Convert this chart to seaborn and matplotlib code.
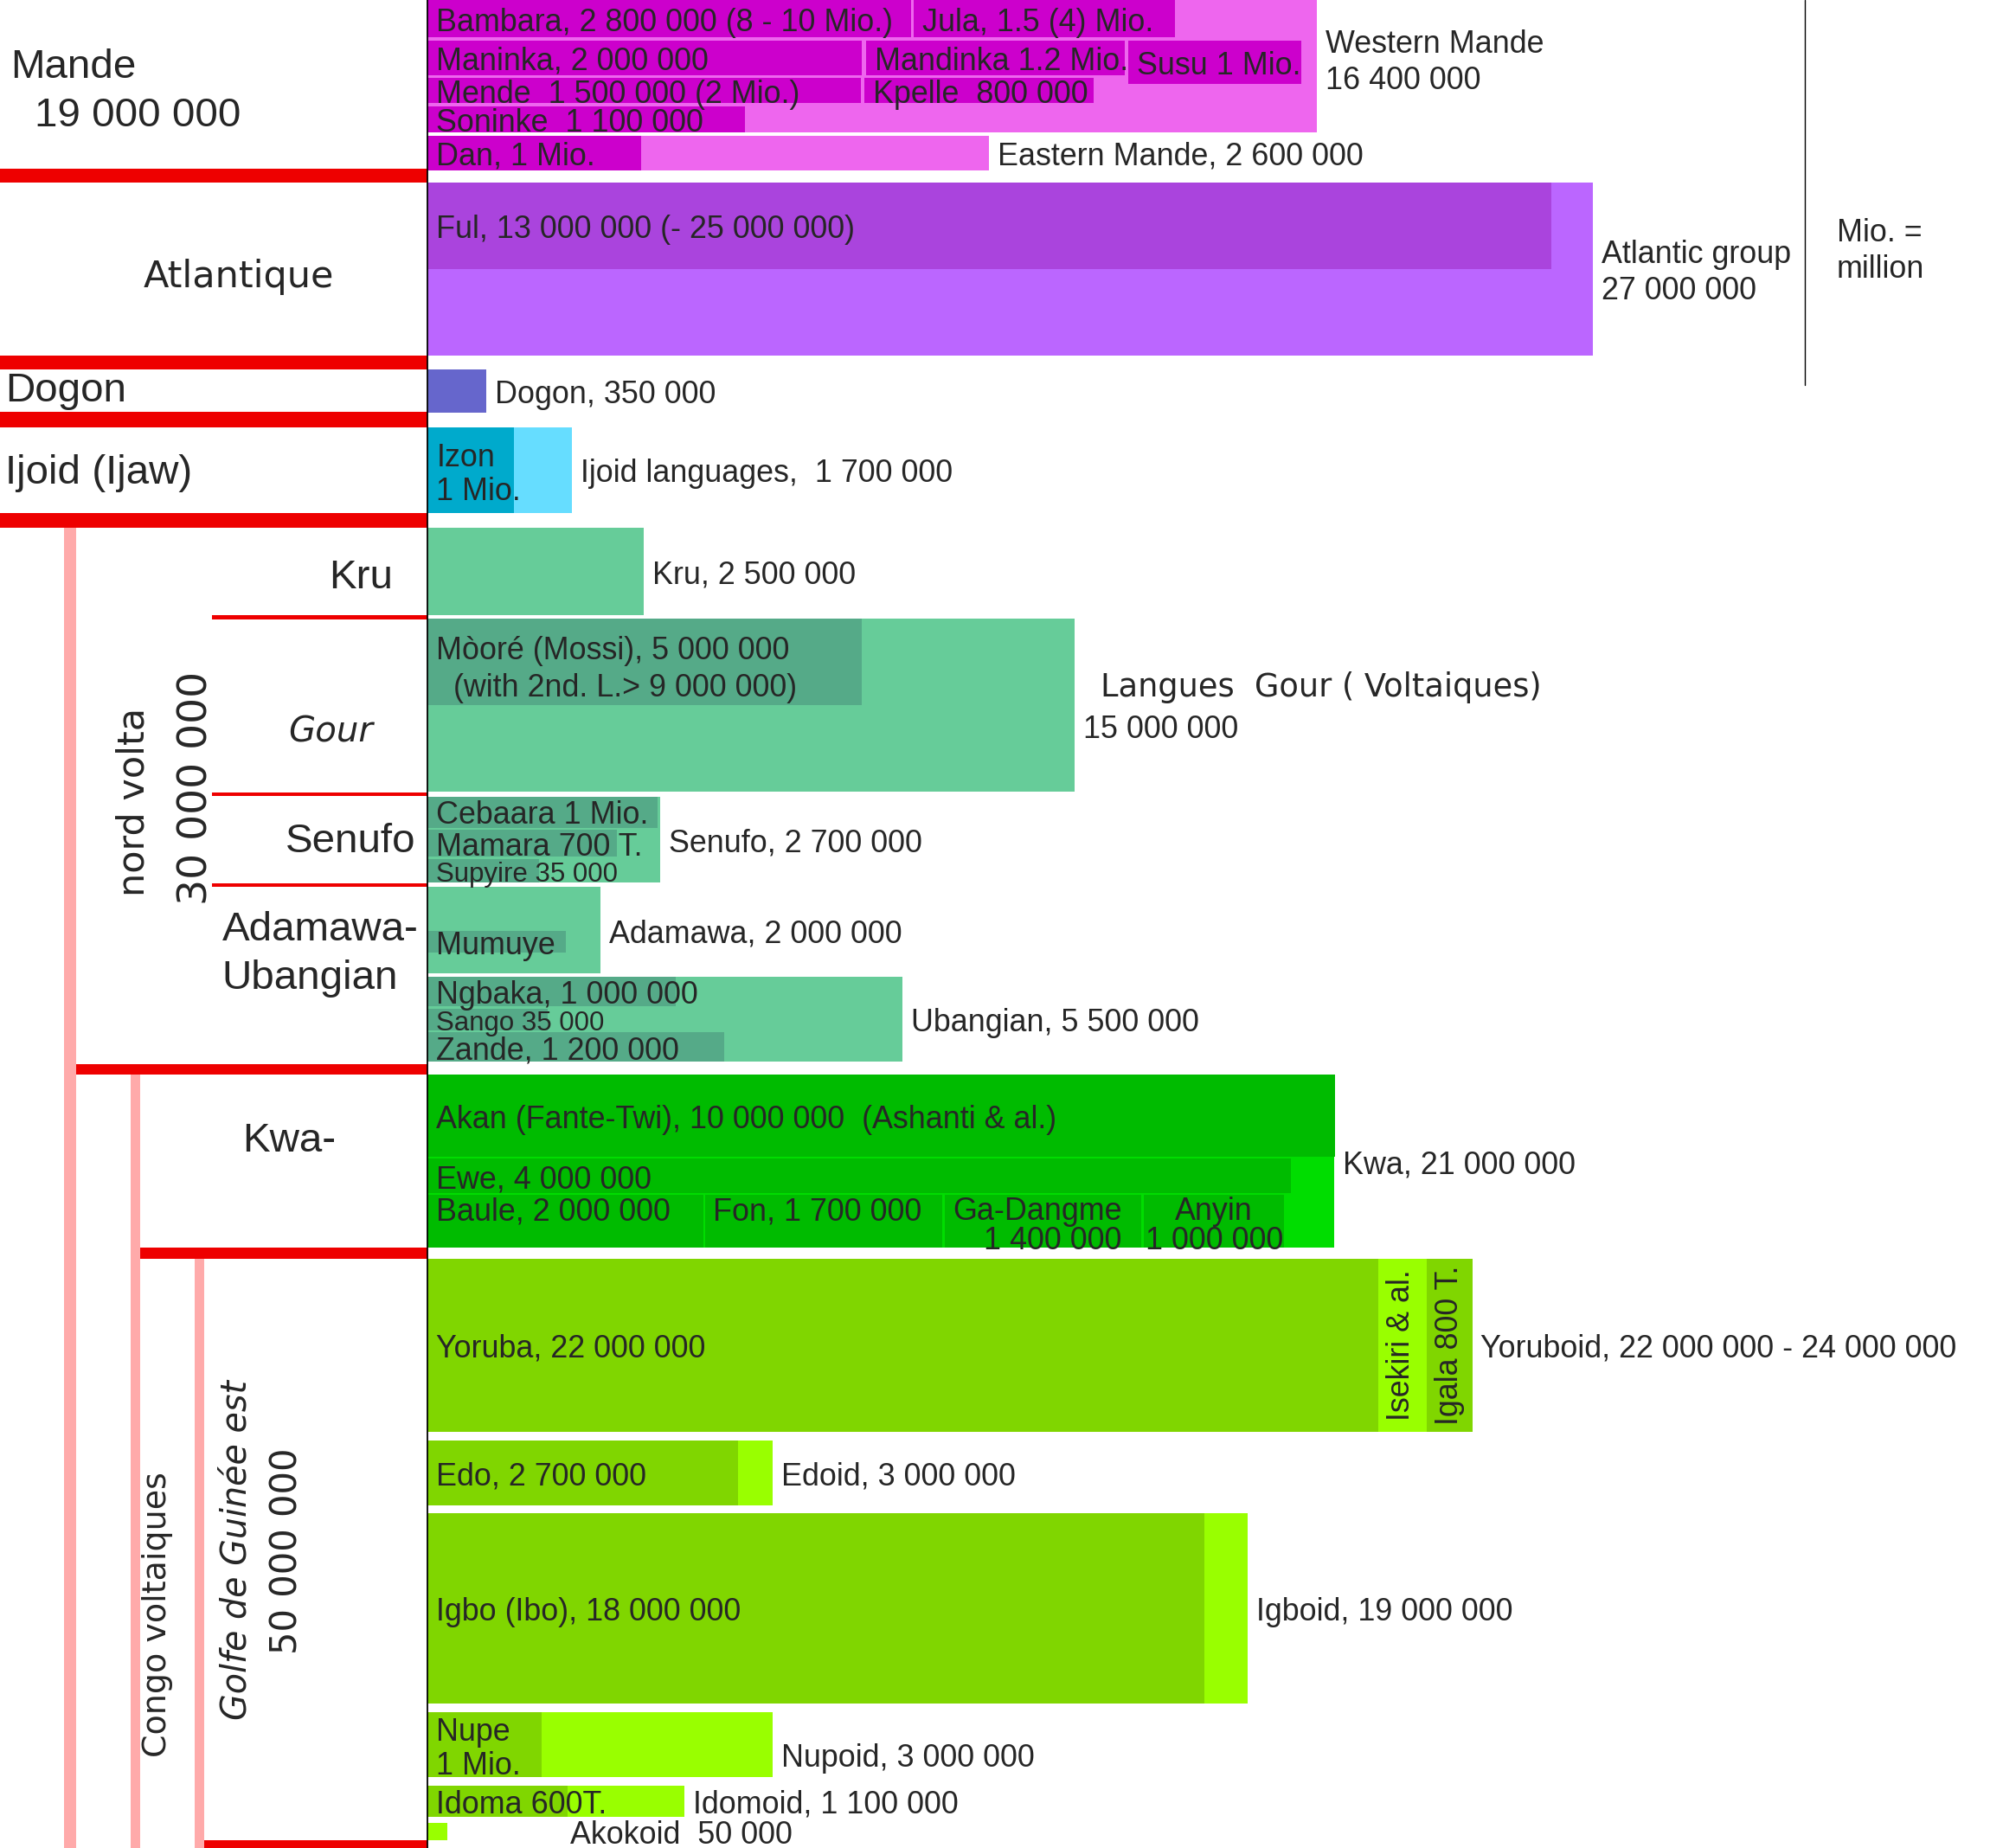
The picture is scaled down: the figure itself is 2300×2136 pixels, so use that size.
import matplotlib
matplotlib.use("Agg")
import matplotlib.pyplot as plt
import seaborn as sns

# ---------------------------------------------------------------
# Group totals. Bar length = millions of speakers on the drawing's
# own scale (the small groups are drawn longer than their count).
# ---------------------------------------------------------------
group_names = ["Western Mande", "Eastern Mande", "Atlantic", "Dogon", "Ijoid",
               "Kru", "Gour", "Senufo", "Adamawa", "Ubangian",
               "Kwa", "Yoruboid", "Edoid", "Igboid", "Nupoid", "Idomoid", "Akokoid"]
group_len = [20.6, 13.0, 27.0, 1.35, 3.35,
             5.0, 15.0, 5.38, 4.0, 11.0,
             21.0, 24.2, 8.0, 19.0, 8.0, 5.95, 0.45]
group_text = ["Western Mande\n16 400 000", "Eastern Mande, 2 600 000",
              "Atlantic group\n27 000 000", "Dogon, 350 000", "Ijoid languages,  1 700 000",
              "Kru, 2 500 000", "15 000 000", "Senufo, 2 700 000", "Adamawa, 2 000 000",
              "Ubangian, 5 500 000", "Kwa, 21 000 000", "Yoruboid, 22 000 000 - 24 000 000",
              "Edoid, 3 000 000", "Igboid, 19 000 000", "Nupoid, 3 000 000",
              "Idomoid, 1 100 000", "Akokoid  50 000"]
group_family = ["mande", "mande", "atlantic", "dogon", "ijoid",
                "volta", "volta", "volta", "volta", "volta",
                "kwa", "golfe", "golfe", "golfe", "golfe", "golfe", "golfe"]
# row extent of each group (rows of the drawing, top to bottom)
group_top = [0, 106.8, 143.8, 291.4, 336.4, 415.5, 487.7, 627.5, 699, 769.8,
             846.8, 992, 1135, 1192, 1349, 1406.7, 1436]
group_bottom = [104.5, 134, 280, 325, 404.5, 484.8, 624, 695.6, 767, 836.7,
                982.9, 1128, 1186, 1342, 1400, 1431.7, 1450]

# ---------------------------------------------------------------
# Single languages drawn inside the group bars
# ---------------------------------------------------------------
sub_text = ["Bambara, 2 800 000 (8 - 10 Mio.)", "Jula, 1.5 (4) Mio.",
            "Maninka, 2 000 000", "Mandinka 1.2 Mio.", "Susu 1 Mio.",
            "Mende  1 500 000 (2 Mio.)", "Kpelle  800 000", "Soninke  1 100 000",
            "Dan, 1 Mio.", "Ful, 13 000 000 (- 25 000 000)", "Izon\n1 Mio.",
            "Mòoré (Mossi), 5 000 000\n  (with 2nd. L.> 9 000 000)",
            "Cebaara 1 Mio.", "Mamara 700 T.", "Supyire 35 000", "Mumuye",
            "Ngbaka, 1 000 000", "Sango 35 000", "Zande, 1 200 000",
            "Akan (Fante-Twi), 10 000 000  (Ashanti & al.)", "Ewe, 4 000 000",
            "Baule, 2 000 000", "Fon, 1 700 000", "Ga-Dangme\n1 400 000", "Anyin\n1 000 000",
            "Yoruba, 22 000 000", "Isekiri & al.", "Igala 800 T.",
            "Edo, 2 700 000", "Igbo (Ibo), 18 000 000", "Nupe\n1 Mio.", "Idoma 600T."]
sub_group = [0, 0, 0, 0, 0, 0, 0, 0, 1, 2, 4, 6, 7, 7, 7, 8, 9, 9, 9,
             10, 10, 10, 10, 10, 10, 11, 11, 11, 12, 13, 14, 15]
sub_start = [0, 11.26, 0, 10.15, 16.24, 0, 10.12, 0, 0, 0, 0, 0, 0, 0, 0, 0, 0, 0, 0,
             0, 0, 0, 6.42, 11.98, 16.6, 0, 22.02, 23.15, 0, 0, 0, 0]
sub_len = [11.2, 6.06, 10.06, 6.0, 4.0, 10.03, 5.32, 7.35, 4.94, 26.03, 2.0,
           10.06, 5.32, 4.38, 2.59, 3.2, 5.74, 2.79, 6.88,
           21.03, 20.0, 6.39, 5.5, 4.55, 3.25, 22.02, 1.08, 1.07,
           7.2, 18.0, 2.65, 3.24]
sub_top = [0, 0, 31.8, 31.8, 31.8, 61.4, 61.4, 83.6, 106.8, 143.8, 336.4,
           487.7, 627.5, 654, 677, 733.7, 769.8, 795, 813.5,
           846.8, 912.9, 941.3, 941.3, 941.3, 941.3, 992, 992, 992,
           1135, 1192, 1349, 1406.7]
sub_bottom = [29.5, 29.5, 59.5, 59.5, 65.9, 81.4, 81.4, 104.5, 134, 211.9, 404.5,
              555.7, 652, 675, 695.6, 750.5, 793, 812, 836.7,
              911.6, 940, 982.9, 982.9, 982.9, 982.9, 1128, 1128, 1128,
              1186, 1342, 1400, 1431.7]

# family colours: (group bar, language bar)
family_colors = {
    "mande": ("#ee66ee", "#cc00cc"),
    "atlantic": ("#bb66ff", "#aa44dd"),
    "dogon": ("#6666cc", "#6666cc"),
    "ijoid": ("#66ddff", "#00aacc"),
    "volta": ("#66cc99", "#55aa88"),
    "kwa": ("#00dd00", "#00bb00"),
    "golfe": ("#99ff00", "#80d600"),
}
bright_subs = {"Isekiri & al."}
small_subs = {"Supyire 35 000", "Sango 35 000"}
top_aligned_subs = {"Baule, 2 000 000", "Fon, 1 700 000"}
group_dy = {"Western Mande": -6, "Nupoid": 8}

# left hand classification labels
left_text = ["Mande", "19 000 000", "Atlantique", "Dogon", "Ijoid (Ijaw)", "Kru",
             "Gour", "Senufo", "Adamawa-", "Ubangian", "Kwa-"]
left_x = [8, 27, 113, 4, 4, 259, 227, 225, 175, 175, 191]
left_y = [50, 88, 215, 305, 370, 452, 574, 660, 730, 768, 896]
vert_text = ["nord volta", "30 000 000", "Congo voltaiques", "Golfe de Guinée est", "50 000 000"]
vert_x = [105, 155, 124, 186, 226]
vert_y = [632, 621, 1272, 1221, 1222]
vert_size = [31.0, 34.0, 27.4, 28.5, 30.0]

# red separators (top, bottom, left end) and pink brackets (x0, x1, start)
sep_top = [133, 280, 324.5, 404.5, 484.9, 624.2, 695.8, 838.5, 983, 1450]
sep_bot = [143.8, 291.4, 336.4, 415.5, 487.8, 627.3, 698.8, 846.8, 992, 1456]
sep_x0 = [0, 0, 0, 0, 167, 167, 167, 60, 110.5, 161]
pink_x0 = [50.4, 103, 153.5]
pink_x1 = [59.8, 110.6, 161]
pink_y0 = [415.5, 846.8, 992]

X0 = 337.0    # pixel column where bars start
MPX = 34.0    # pixels per million on the drawing
W, H = 1568, 1456
DY = 3        # text sits a little below the box centre in the original
RED = "#ee0000"
PINK = "#ffaaaa"
FS = 25.8
BIG = 34.2
SMALL = 22.5
COMIC = "DejaVu Sans"


def ux(px):
    return (px - X0) / MPX


sns.set_theme(style="white")
plt.rcParams["font.family"] = ["Liberation Sans", "DejaVu Sans"]

fig = plt.figure(figsize=(23, 21.36), dpi=100)
ax = fig.add_axes([0, 0, 1, 1])
ax.set_xlim(ux(0), ux(W))
ax.set_ylim(H, 0)
ax.axis("off")

# group bars
for i in range(len(group_names)):
    top, bot = group_top[i], group_bottom[i]
    ax.barh((top + bot) / 2, group_len[i], left=0, height=bot - top,
            color=family_colors[group_family[i]][0], linewidth=0)

# language bars and their labels
for j, t in enumerate(sub_text):
    fam = group_family[sub_group[j]]
    col = family_colors[fam][0 if t in bright_subs else 1]
    top, bot = sub_top[j], sub_bottom[j]
    yc = (top + bot) / 2
    ax.barh(yc, sub_len[j], left=sub_start[j], height=bot - top, color=col, linewidth=0)
    fs = SMALL if t in small_subs else FS
    ty = yc + DY
    if sub_len[j] < 1.5:
        ax.text(sub_start[j] + sub_len[j] / 2, yc, t, rotation=90, fontsize=fs,
                ha="center", va="center")
    elif t.startswith("Anyin"):
        ax.text(sub_start[j] + sub_len[j] / 2, ty + 1, t, fontsize=fs, ha="center",
                va="center", multialignment="center", linespacing=0.95)
    elif t.startswith("Ga-Dangme"):
        ax.text(sub_start[j] + 0.18, ty + 1, t, fontsize=fs, ha="left",
                va="center", multialignment="right", linespacing=0.95)
    elif t in top_aligned_subs:
        ax.text(sub_start[j] + 0.2, ty - 10, t, fontsize=fs, ha="left", va="center")
    elif t.startswith("Mòoré"):
        ax.text(sub_start[j] + 0.2, ty + 3, t, fontsize=fs, ha="left", va="center",
                linespacing=1.3)
    else:
        ax.text(sub_start[j] + 0.2, ty + (1 if "\n" in t else 0), t, fontsize=fs,
                ha="left", va="center", linespacing=1.15)

# group totals to the right of the bars
for i, name in enumerate(group_names):
    yc = (group_top[i] + group_bottom[i]) / 2 + DY + group_dy.get(name, 0)
    x = group_len[i] + 0.2
    if name == "Akokoid":
        x += 2.65
    if name == "Gour":
        ax.text(x + 0.4, yc - 17, "Langues  Gour ( Voltaiques)", family=COMIC,
                fontsize=26.5, va="center")
        ax.text(x, yc + 16, group_text[i], fontsize=FS, va="center")
    else:
        ax.text(x, yc, group_text[i], fontsize=FS, va="center", linespacing=1.25)

# left side classification
for t, x, y in zip(left_text, left_x, left_y):
    if t in ("Atlantique", "Gour"):
        ax.text(ux(x), y + DY, t, family=COMIC, fontsize=31 if t == "Atlantique" else 29,
                style="italic" if t == "Gour" else "normal", va="center")
    else:
        ax.text(ux(x), y + DY, t, fontsize=BIG, va="center")
for t, x, y, s in zip(vert_text, vert_x, vert_y, vert_size):
    ax.text(ux(x), y, t, family=COMIC, fontsize=s, rotation=90, ha="center", va="center",
            style="italic" if t.startswith("Golfe") else "normal")

for t, b, x0 in zip(sep_top, sep_bot, sep_x0):
    ax.fill_between([ux(x0), 0], t, b, color=RED, linewidth=0)
for x0, x1, y0 in zip(pink_x0, pink_x1, pink_y0):
    ax.fill_betweenx([y0, H], ux(x0), ux(x1), color=PINK, linewidth=0)

ax.plot([0, 0], [0, H], color="black", lw=1.3, zorder=5)
ax.plot([ux(1422), ux(1422)], [0, 303], color="black", lw=1.0)
ax.text(ux(1447), 195 + DY, "Mio. =\nmillion", fontsize=FS, va="center", linespacing=1.25)

fig.savefig("out.png", dpi=100, facecolor="white")
